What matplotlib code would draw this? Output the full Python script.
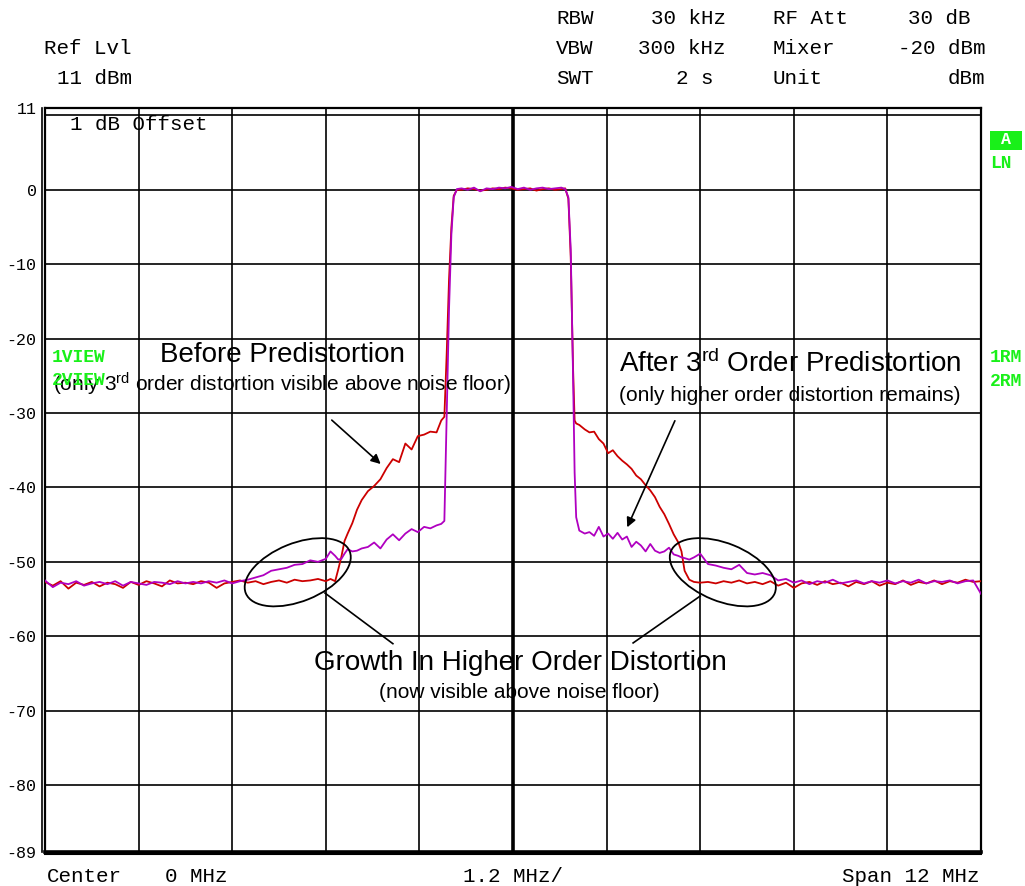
import matplotlib
matplotlib.use("Agg")
import matplotlib.pyplot as plt
import matplotlib.transforms as mtransforms
from matplotlib.patches import Ellipse, Rectangle

plt.rcParams.update({
    "font.family": "Liberation Sans",
    "mathtext.default": "regular",
})

MONO = "Liberation Mono"
GREEN = "#19f019"
RED = "#cc0000"
PURPLE = "#b000c0"

# sweep points (MHz from centre)
freq_mhz = [
    -6.0, -5.9, -5.8, -5.7, -5.6, -5.5, -5.4, -5.3, -5.2, -5.1,
    -5.0, -4.9, -4.8, -4.7, -4.6, -4.5, -4.4, -4.3, -4.2, -4.1,
    -4.0, -3.9, -3.8, -3.7, -3.6, -3.5, -3.4, -3.3, -3.2, -3.1,
    -3.0, -2.9, -2.8, -2.7, -2.6, -2.5, -2.4,
    -2.34, -2.28, -2.24, -2.20, -2.16, -2.12, -2.06, -2.00, -1.94, -1.86,
    -1.78, -1.70, -1.62, -1.54, -1.46, -1.38, -1.30, -1.22, -1.14, -1.06,
    -0.98, -0.92,
    -0.88, -0.85, -0.82, -0.79, -0.76, -0.72,
    -0.66, -0.58, -0.50, -0.42, -0.34, -0.26, -0.18, -0.10, -0.02, 0.06,
    0.14, 0.22, 0.30, 0.38, 0.46, 0.54, 0.62, 0.67,
    0.71, 0.74, 0.77, 0.79, 0.81,
    0.85, 0.92, 0.98, 1.04, 1.10, 1.16, 1.22, 1.28, 1.34, 1.40,
    1.46, 1.52, 1.58, 1.64, 1.70, 1.76, 1.82, 1.88, 1.94, 2.00,
    2.06, 2.12, 2.16, 2.20, 2.26, 2.32,
    2.4, 2.5, 2.6, 2.7, 2.8, 2.9, 3.0, 3.1, 3.2, 3.3,
    3.4, 3.5, 3.6, 3.7, 3.8, 3.9, 4.0, 4.1, 4.2, 4.3,
    4.4, 4.5, 4.6, 4.7, 4.8, 4.9, 5.0, 5.1, 5.2, 5.3,
    5.4, 5.5, 5.6, 5.7, 5.8, 5.9, 6.0,
]

# trace 1: before predistortion (dBm)
before_dbm = [
    -52.7, -53.2, -52.6, -53.6, -52.8, -53.1, -52.7, -53.3, -52.8, -53.0,
    -53.5, -52.7, -53.1, -52.6, -52.9, -53.3, -52.5, -52.9, -52.8, -53.0,
    -52.6, -52.8, -53.5, -52.9, -52.7, -52.5, -52.8, -52.6, -53.0, -52.7,
    -52.5, -52.8, -52.4, -52.6, -52.5, -52.3, -52.6,
    -52.3, -52.6, -51.0, -49.3, -47.2, -46.2, -44.8, -43.0, -41.7, -40.5,
    -39.8, -38.9, -37.4, -36.2, -36.6, -34.1, -34.9, -33.1, -32.9, -32.5,
    -32.6, -31.0,
    -30.5, -22.0, -12.0, -5.0, -0.8, 0.0,
    0.0, 0.2, 0.1, -0.1, 0.0, 0.2, 0.1, 0.3, 0.2, 0.0,
    0.1, 0.2, -0.1, 0.1, 0.2, 0.0, 0.1, 0.2,
    -1.2, -9.0, -24.0, -31.0, -31.4,
    -31.6, -32.2, -32.6, -32.5, -33.5, -34.1, -35.4, -35.0, -35.8, -36.4,
    -36.9, -37.5, -38.4, -38.9, -39.7, -40.4, -41.3, -42.6, -43.6, -44.9,
    -46.3, -47.4, -48.6, -51.2, -52.4, -52.7,
    -52.8, -52.7, -52.9, -52.6, -52.8, -52.5, -52.9, -52.7, -53.0, -52.6,
    -53.2, -52.8, -53.5, -52.9, -52.7, -53.1, -52.6, -53.0, -52.8, -53.3,
    -52.7, -53.0, -52.6, -53.2, -52.8, -53.0, -52.5, -53.1, -52.7, -52.9,
    -52.5, -53.0, -52.6, -52.8, -52.4, -52.7, -52.6,
]

# trace 2: after 3rd order predistortion (dBm)
after_dbm = [
    -52.5, -53.4, -52.8, -53.0, -52.6, -53.2, -52.9, -52.7, -53.0, -52.6,
    -53.2, -52.7, -52.9, -53.1, -52.7, -52.8, -53.0, -52.6, -52.9, -52.7,
    -52.9, -52.6, -52.8, -52.5, -52.9, -52.6, -52.4, -52.1, -51.8, -51.2,
    -51.0, -50.8, -50.4, -50.3, -49.8, -50.0, -49.6,
    -48.6, -49.2, -49.7, -49.6, -48.9, -48.3, -48.6, -48.5, -48.2, -48.0,
    -47.4, -48.2, -47.0, -46.3, -47.1, -46.2, -45.6, -46.0, -45.3, -45.5,
    -45.1, -44.9,
    -44.5, -30.0, -16.0, -6.0, -1.0, 0.1,
    0.2, 0.0, 0.3, -0.2, 0.2, 0.1, 0.3, 0.2, 0.4, 0.1,
    0.3, 0.0, 0.2, 0.3, 0.1, 0.2, 0.3, 0.1,
    -1.0, -8.0, -25.0, -38.0, -44.0,
    -45.8, -46.2, -46.0, -46.5, -45.3, -46.6, -46.2, -46.9, -46.1, -47.0,
    -46.6, -48.0, -47.3, -47.8, -48.6, -47.6, -48.5, -48.8, -48.6, -48.1,
    -49.0, -49.2, -49.4, -49.5, -49.7, -49.4,
    -48.9, -50.3, -50.5, -50.8, -51.0, -50.4, -51.5, -51.7, -51.5, -51.8,
    -52.5, -52.3, -52.8, -52.5, -53.0, -52.6, -52.8, -52.4, -52.9, -52.7,
    -52.5, -52.9, -52.6, -52.8, -52.5, -52.9, -52.6, -52.8, -52.4, -52.9,
    -52.6, -52.7, -52.5, -52.9, -52.6, -52.5, -54.3,
]

grid_levels = [10, 0, -10, -20, -30, -40, -50, -60, -70, -80]
ytick_values = [11, 0, -10, -20, -30, -40, -50, -60, -70, -80, -89]
ytick_labels = ["11", "0", "-10", "-20", "-30", "-40", "-50", "-60", "-70", "-80", "-89"]
x_divisions = [-4.8, -3.6, -2.4, -1.2, 0.0, 1.2, 2.4, 3.6, 4.8]

W, H = 1025, 886
fig = plt.figure(figsize=(W / 100, H / 100), dpi=100)
fig.patch.set_facecolor("white")
ax = fig.add_axes([45 / W, 1 - 852 / H, (981 - 45) / W, (852 - 108) / H])
ax.set_xlim(-6, 6)
ax.set_ylim(-89, 11)


def ftext(x, y, s, **kw):
    # place text by screen position (px from top-left)
    return fig.text(x / W, 1 - y / H, s, **kw)


# graticule
for lvl in grid_levels:
    ax.axhline(lvl, color="black", lw=1.2, zorder=1)
for xd in x_divisions:
    ax.axvline(xd, color="black", lw=2.6 if xd == 0 else 1.2, zorder=1)

for side in ["left", "right", "top"]:
    ax.spines[side].set_linewidth(1.6)
ax.spines["bottom"].set_linewidth(2.6)
off_left = mtransforms.offset_copy(ax.transAxes, fig=fig, x=-3, y=0, units="dots")
ax.plot([0, 0], [0, 1], color="black", lw=1.2, transform=off_left, clip_on=False)
off_bot = mtransforms.offset_copy(ax.transAxes, fig=fig, x=0, y=-2, units="dots")
ax.plot([0, 1], [0, 0], color="black", lw=1.5, transform=off_bot, clip_on=False)

ax.set_xticks([])
ax.set_yticks(ytick_values)
ax.set_yticklabels(ytick_labels, fontfamily=MONO, fontsize=12)
ax.tick_params(axis="y", length=0, pad=6)

# traces
ax.plot(freq_mhz, before_dbm, color=RED, lw=1.3, zorder=4)
ax.plot(freq_mhz, after_dbm, color=PURPLE, lw=1.3, zorder=5)

# header block
hdr = dict(fontfamily=MONO, fontsize=15, va="center")
ftext(556, 19, "RBW", ha="left", **hdr)
ftext(726, 19, "30 kHz", ha="right", **hdr)
ftext(773, 19, "RF Att", ha="left", **hdr)
ftext(970, 19, "30 dB", ha="right", **hdr)
ftext(44, 49, "Ref Lvl", ha="left", **hdr)
ftext(556, 49, "VBW", ha="left", **hdr)
ftext(726, 49, "300 kHz", ha="right", **hdr)
ftext(773, 49, "Mixer", ha="left", **hdr)
ftext(985, 49, "-20 dBm", ha="right", **hdr)
ftext(57, 79, "11 dBm", ha="left", **hdr)
ftext(556, 79, "SWT", ha="left", **hdr)
ftext(713, 79, "2 s", ha="right", **hdr)
ftext(773, 79, "Unit", ha="left", **hdr)
ftext(985, 79, "dBm", ha="right", **hdr)

ftext(70, 124, "1 dB Offset", ha="left", **hdr)

ftext(47, 876, "Center", ha="left", **hdr)
ftext(165, 876, "0 MHz", ha="left", **hdr)
ftext(463, 876, "1.2 MHz/", ha="left", **hdr)
ftext(980, 876, "Span 12 MHz", ha="right", **hdr)

# trace flags
flag = dict(fontfamily=MONO, fontsize=13, fontweight="bold", color=GREEN, va="center")
fig.add_artist(Rectangle((990 / W, 1 - 150 / H), 32 / W, 19 / H,
                         transform=fig.transFigure, facecolor=GREEN, edgecolor="none"))
ftext(1006, 140, "A", ha="center", fontfamily=MONO, fontsize=12,
      fontweight="bold", color="white", va="center")
ftext(990, 164, "LN", ha="left", **flag)
ftext(52, 358, "1VIEW", ha="left", **flag)
ftext(52, 381, "2VIEW", ha="left", **flag)
ftext(990, 358, "1RM", ha="left", **flag)
ftext(990, 382, "2RM", ha="left", **flag)

# callouts
ax.text(-2.96, -22.2, "Before Predistortion", fontsize=20, ha="center", va="center", zorder=6)
ax.text(-2.97, -26.1, "(only 3$^{rd}$ order distortion visible above noise floor)",
        fontsize=15, ha="center", va="center", zorder=6)
ax.text(3.55, -23.4, "After 3$^{rd}$ Order Predistortion", fontsize=20,
        ha="center", va="center", zorder=6)
ax.text(3.55, -27.6, "(only higher order distortion remains)", fontsize=15,
        ha="center", va="center", zorder=6)
ax.text(0.10, -63.6, "Growth In Higher Order Distortion", fontsize=20,
        ha="center", va="center", zorder=6)
ax.text(0.08, -67.5, "(now visible above noise floor)", fontsize=15,
        ha="center", va="center", zorder=6)

arrow = dict(arrowstyle="-|>", color="black", lw=1.2, mutation_scale=14)
ax.annotate("", xy=(-1.67, -37.1), xytext=(-2.35, -30.7), arrowprops=arrow, zorder=7)
ax.annotate("", xy=(1.45, -45.7), xytext=(2.09, -30.7), arrowprops=arrow, zorder=7)
ax.plot([-1.54, -2.41], [-61.0, -54.2], color="black", lw=1.2, zorder=7)
ax.plot([1.54, 2.40], [-60.9, -54.6], color="black", lw=1.2, zorder=7)

for cx, cy, ang in [(-2.76, -51.4, 22), (2.69, -51.4, -22)]:
    tr = fig.dpi_scale_trans + mtransforms.ScaledTranslation(cx, cy, ax.transData)
    ax.add_patch(Ellipse((0, 0), 1.12, 0.58, angle=ang, transform=tr,
                         facecolor="none", edgecolor="black", lw=1.3, zorder=7))

fig.savefig("out.png", dpi=100, facecolor="white")
